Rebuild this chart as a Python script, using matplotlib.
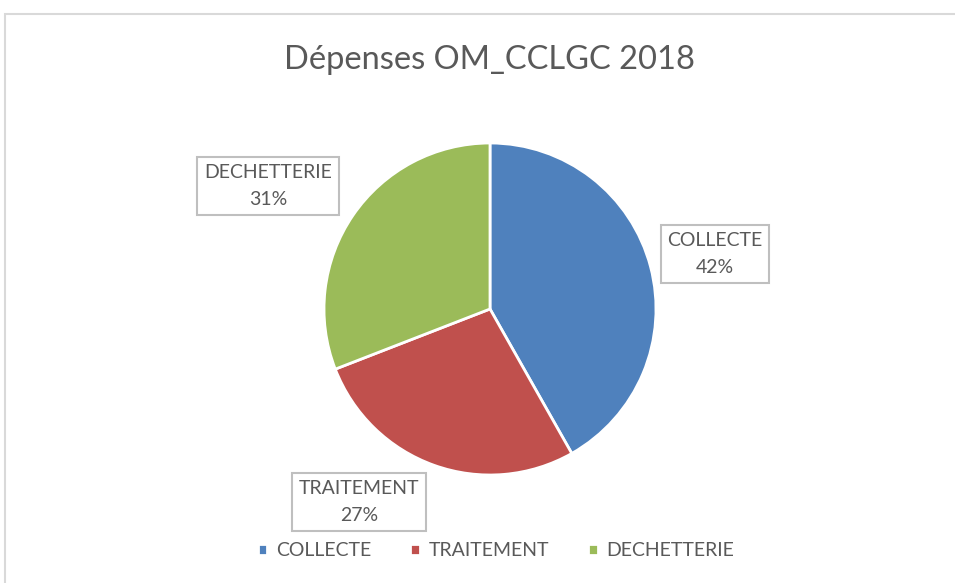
import matplotlib.pyplot as plt
from matplotlib.patches import Rectangle

# Données
categories = ["COLLECTE", "TRAITEMENT", "DECHETTERIE"]
valeurs = [41.8, 27.3, 30.9]
pourcentages = ["42%", "27%", "31%"]
couleurs = ["#4F81BD", "#C0504D", "#9BBB59"]

# positions des étiquettes (pixels, origine en bas)
label_pos = [(715, 329), (359, 81), (268, 397)]

plt.rcParams['font.family'] = ['Lato', 'DejaVu Sans']
gris = "#595959"

fig = plt.figure(figsize=(9.55, 5.83), dpi=100)
ax = fig.add_axes([0, 0, 1, 1])

# cadre du graphique
ax.add_patch(Rectangle((5, -10), 980, 579, fill=False, edgecolor="#d9d9d9", linewidth=1.5))

wedges, _ = ax.pie(valeurs, colors=couleurs, startangle=90, counterclock=False,
                   center=(490, 274), radius=166, frame=True,
                   wedgeprops=dict(edgecolor="white", linewidth=2))
ax.set_xlim(0, 955)
ax.set_ylim(0, 583)
ax.set_aspect('equal')
ax.axis('off')

for (x, y), cat, pct in zip(label_pos, categories, pourcentages):
    ax.text(x, y, f"{cat}\n{pct}", ha="center", va="center", fontsize=14, color=gris,
            linespacing=1.75,
            bbox=dict(boxstyle="square,pad=0.35", facecolor="white", edgecolor="#bfbfbf", linewidth=1.5))

ax.text(489, 523, "Dépenses OM_CCLGC 2018", ha="center", va="center", fontsize=23.5, color=gris)

fig.legend(wedges, categories, loc="center", bbox_to_anchor=(496 / 955, 1 - 551 / 583),
           ncol=3, frameon=False, fontsize=14, labelcolor=gris,
           handlelength=0.5, handleheight=0.5, handletextpad=0.45, columnspacing=2.0)

fig.savefig("out.png", dpi=100)
